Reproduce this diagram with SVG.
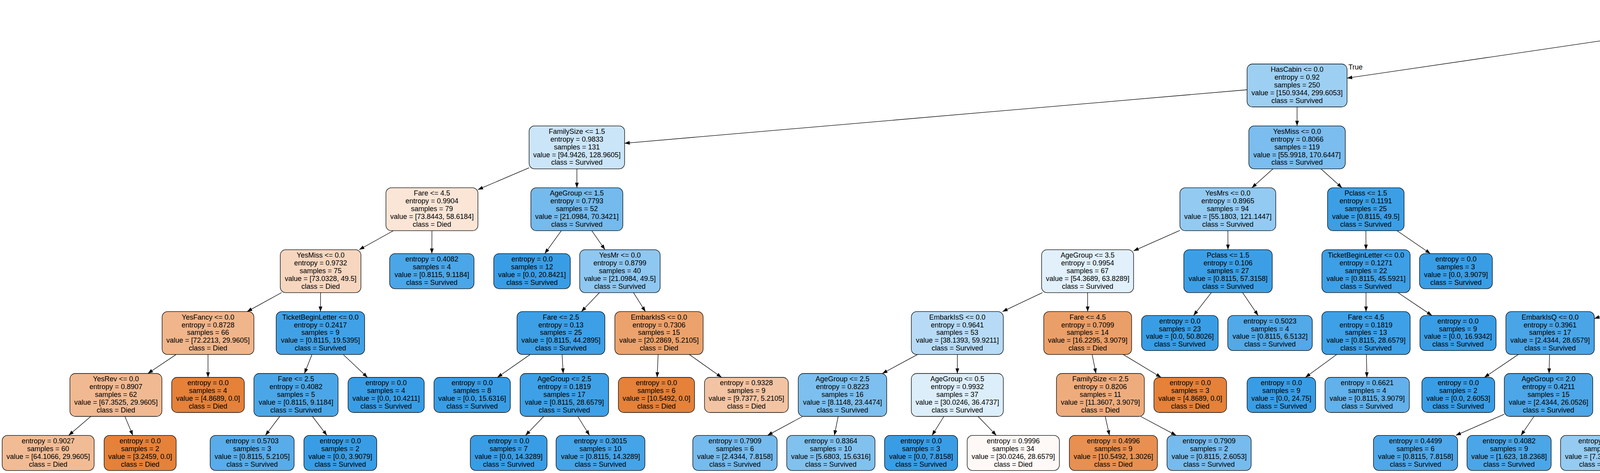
<svg xmlns="http://www.w3.org/2000/svg" width="7170" height="1212" viewBox="0 0 7170 1212">
<style>
.e path{fill:none;stroke:#000;stroke-width:1.3px;marker-end:url(#ah)}
.nd rect{stroke:#000;stroke-width:1.3px;rx:14px;ry:14px}
.d rect{fill:#e58139}
.s rect{fill:#399de5}
text{font-family:"Liberation Sans",Arial,Helvetica,sans-serif;font-size:18px;fill:#000}
.nd text{text-anchor:middle}
</style>
<defs>
<marker id="ah" markerUnits="userSpaceOnUse" markerWidth="16" markerHeight="12" refX="13" refY="5" orient="auto" overflow="visible"><path d="M0,0.3 L13,5 L0,9.7 Z" fill="#000"/></marker>
</defs>
<rect x="0" y="0" width="7170" height="1212" fill="#fff"/>
<g id="edges" class="e">
<path d="M4285.5,77.1 L3448.5,200.2"/>
<path d="M4512,75.1 L5497,202.5"/>
<path d="M3192.5,230 L1599,367.1"/>
<path d="M3320.5,274 L3320.5,322.6"/>
<path d="M1354.5,429.9 L1223.5,485.9"/>
<path d="M1476.8,432.6 L1476.8,481.2"/>
<path d="M1006.9,591.2 L919.6,639.8"/>
<path d="M1105.7,591.2 L1105.5,649.8"/>
<path d="M720.8,749.8 L632.5,798.4"/>
<path d="M820.6,749.8 L820.4,798.4"/>
<path d="M450.8,908.4 L378.5,957"/>
<path d="M532.5,908.4 L532.5,967"/>
<path d="M232.5,1067 L175.8,1115.6"/>
<path d="M319.7,1067 L340,1115.6"/>
<path d="M798.6,908.4 L779.4,957"/>
<path d="M878.6,908.4 L940.8,967"/>
<path d="M716.2,1067 L679.5,1115.6"/>
<path d="M799.8,1067 L836.9,1115.6"/>
<path d="M1437,591.2 L1394.6,649.8"/>
<path d="M1515,591.2 L1548.8,639.8"/>
<path d="M1534.6,749.8 L1488.4,798.4"/>
<path d="M1621.7,749.8 L1652.3,798.4"/>
<path d="M1357.2,908.4 L1273.2,967"/>
<path d="M1439,908.4 L1441.7,957"/>
<path d="M1392,1067 L1345.4,1115.6"/>
<path d="M1479,1067 L1509.2,1115.6"/>
<path d="M1684.8,908.4 L1682.3,967"/>
<path d="M1764.6,908.4 L1847.3,967"/>
<path d="M3259,432.6 L3204.7,481.2"/>
<path d="M3381.5,432.6 L3435.5,481.2"/>
<path d="M3020.5,590.4 L2902,642.8"/>
<path d="M3143.4,591.2 L3143.6,639.8"/>
<path d="M2668.6,749.8 L2566.4,798.4"/>
<path d="M2784.3,749.8 L2784.4,798.4"/>
<path d="M2348.8,908.4 L2258.7,957"/>
<path d="M2450.8,908.4 L2450.8,957"/>
<path d="M2054.9,1067 L1964.9,1115.6"/>
<path d="M2145.7,1067 L2136,1115.6"/>
<path d="M2416.4,1067 L2386.1,1115.6"/>
<path d="M2503.8,1067 L2550.6,1115.6"/>
<path d="M2795.8,908.4 L2805.7,957"/>
<path d="M2875.5,908.4 L2972.5,967"/>
<path d="M2829.3,1067 L2840.2,1115.6"/>
<path d="M2920,1067 L3011,1115.6"/>
<path d="M3101,749.8 L3055.5,808.4"/>
<path d="M3181,749.8 L3220.8,808.4"/>
<path d="M3496.6,591.2 L3496.9,639.8"/>
<path d="M3576.5,591.2 L3661.8,649.8"/>
<path d="M3497,749.8 L3497,798.4"/>
<path d="M3578.7,749.8 L3665.7,808.4"/>
<path d="M3421.8,908.4 L3341.8,967"/>
<path d="M3498,908.4 L3499.2,967"/>
<path d="M5624.5,274 L5624.5,322.6"/>
<path d="M5752,238.9 L6528.5,359.9"/>
<path d="M5543.5,432.6 L5472,481.2"/>
<path d="M5705.8,432.6 L5777.7,481.2"/>
<path d="M5273.5,556.1 L4550,678.3"/>
<path d="M5391,591.2 L5391,639.8"/>
<path d="M4354.5,726.8 L4081.5,816.3"/>
<path d="M4452.3,749.8 L4452.4,798.4"/>
<path d="M3886.8,908.4 L3799.9,967"/>
<path d="M3966.9,908.4 L3965.6,957"/>
<path d="M3851,1061.4 L3726.9,1115.6"/>
<path d="M3926.9,1067 L3893.8,1115.6"/>
<path d="M4409.8,908.4 L4372,957"/>
<path d="M4494.9,908.4 L4532.4,957"/>
<path d="M4247.5,1067 L4175.2,1115.6"/>
<path d="M4332.9,1067 L4336.1,1115.6"/>
<path d="M4570.9,1067 L4567.4,1115.6"/>
<path d="M4659.9,1067 L4735.1,1115.6"/>
<path d="M5347.4,749.8 L5308.9,798.4"/>
<path d="M5434.5,749.8 L5480.9,808.4"/>
<path d="M5263,908.4 L5261,957"/>
<path d="M5350,908.4 L5424.8,957"/>
<path d="M5179.4,1067 L5109.2,1115.6"/>
<path d="M5262.7,1067 L5266.2,1115.6"/>
<path d="M5506.1,1067 L5503.1,1115.6"/>
<path d="M5596.8,1067 L5673.9,1115.6"/>
<path d="M5859,591.2 L5859,639.8"/>
<path d="M5977,589.5 L6097,643.7"/>
<path d="M5825.8,749.8 L5790.4,808.4"/>
<path d="M5902.4,749.8 L5940.7,798.4"/>
<path d="M5986.4,908.4 L5988.6,957"/>
<path d="M6087,904.4 L6400,988"/>
<path d="M5991,1067 L5991,1115.6"/>
<path d="M6087.7,1067 L6173.1,1115.6"/>
<path d="M6513.8,1067 L6513.8,1115.6"/>
<path d="M6601.2,1067 L6678.5,1115.6"/>
<path d="M6210,749.8 L6210.2,808.4"/>
<path d="M6284.8,749.8 L6364.5,808.4"/>
<path d="M6641.8,432.6 L6641.8,481.2"/>
<path d="M6723.6,432.6 L6810.8,491.2"/>
<path d="M6641.8,591.2 L6641.8,639.8"/>
<path d="M6726.7,591.2 L6817.2,649.8"/>
<path d="M6641.8,749.8 L6641.8,808.4"/>
<path d="M6721.6,749.8 L6792.2,798.4"/>
<path d="M6852.7,908.4 L6832.1,967"/>
<path d="M6935.8,908.4 L7003.8,967"/>
<text x="3452" y="178">True</text>
<text x="5453" y="180">False</text>
</g>
<g id="n0" class="nd s"><rect x="4285.5" y="5.4" width="226.5" height="110" style="fill-opacity:.085"/><text x="4398.8" y="25.6"><tspan x="4398.8">Pclass &lt;= 2.5</tspan><tspan x="4398.8" dy="19.9">entropy = 0.9986</tspan><tspan x="4398.8" dy="19.9">samples = 557</tspan><tspan x="4398.8" dy="19.9">value = [430.082, 470.25]</tspan><tspan x="4398.8" dy="19.9">class = Survived</tspan></text></g>
<g id="n1" class="nd s"><rect x="3192.5" y="164" width="256" height="110" style="fill-opacity:.496"/><text x="3320.5" y="184.2"><tspan x="3320.5">HasCabin &lt;= 0.0</tspan><tspan x="3320.5" dy="19.9">entropy = 0.92</tspan><tspan x="3320.5" dy="19.9">samples = 250</tspan><tspan x="3320.5" dy="19.9">value = [150.9344, 299.6053]</tspan><tspan x="3320.5" dy="19.9">class = Survived</tspan></text></g>
<g id="n2" class="nd s"><rect x="1354.5" y="322.6" width="244.5" height="110" style="fill-opacity:.264"/><text x="1476.8" y="342.8"><tspan x="1476.8">FamilySize &lt;= 1.5</tspan><tspan x="1476.8" dy="19.9">entropy = 0.9833</tspan><tspan x="1476.8" dy="19.9">samples = 131</tspan><tspan x="1476.8" dy="19.9">value = [94.9426, 128.9605]</tspan><tspan x="1476.8" dy="19.9">class = Survived</tspan></text></g>
<g id="n3" class="nd d"><rect x="988" y="481.2" width="235.5" height="110" style="fill-opacity:.206"/><text x="1105.8" y="501.4"><tspan x="1105.8">Fare &lt;= 4.5</tspan><tspan x="1105.8" dy="19.9">entropy = 0.9904</tspan><tspan x="1105.8" dy="19.9">samples = 79</tspan><tspan x="1105.8" dy="19.9">value = [73.8443, 58.6184]</tspan><tspan x="1105.8" dy="19.9">class = Died</tspan></text></g>
<g id="n4" class="nd d"><rect x="717.5" y="639.8" width="206.5" height="110" style="fill-opacity:.322"/><text x="820.8" y="660"><tspan x="820.8">YesMiss &lt;= 0.0</tspan><tspan x="820.8" dy="19.9">entropy = 0.9732</tspan><tspan x="820.8" dy="19.9">samples = 75</tspan><tspan x="820.8" dy="19.9">value = [73.0328, 49.5]</tspan><tspan x="820.8" dy="19.9">class = Died</tspan></text></g>
<g id="n5" class="nd d"><rect x="415" y="798.4" width="235" height="110" style="fill-opacity:.585"/><text x="532.5" y="818.6"><tspan x="532.5">YesFancy &lt;= 0.0</tspan><tspan x="532.5" dy="19.9">entropy = 0.8728</tspan><tspan x="532.5" dy="19.9">samples = 66</tspan><tspan x="532.5" dy="19.9">value = [72.2213, 29.9605]</tspan><tspan x="532.5" dy="19.9">class = Died</tspan></text></g>
<g id="n6" class="nd d"><rect x="179" y="957" width="235.5" height="110" style="fill-opacity:.555"/><text x="296.8" y="977.2"><tspan x="296.8">YesRev &lt;= 0.0</tspan><tspan x="296.8" dy="19.9">entropy = 0.8907</tspan><tspan x="296.8" dy="19.9">samples = 62</tspan><tspan x="296.8" dy="19.9">value = [67.3525, 29.9605]</tspan><tspan x="296.8" dy="19.9">class = Died</tspan></text></g>
<g id="n7" class="nd d"><rect x="5.5" y="1115.6" width="235.5" height="90" style="fill-opacity:.533"/><text x="123.3" y="1135.8"><tspan x="123.3">entropy = 0.9027</tspan><tspan x="123.3" dy="19.9">samples = 60</tspan><tspan x="123.3" dy="19.9">value = [64.1066, 29.9605]</tspan><tspan x="123.3" dy="19.9">class = Died</tspan></text></g>
<g id="n8" class="nd d"><rect x="266.5" y="1115.6" width="184.5" height="90" style="fill-opacity:1"/><text x="358.8" y="1135.8"><tspan x="358.8">entropy = 0.0</tspan><tspan x="358.8" dy="19.9">samples = 2</tspan><tspan x="358.8" dy="19.9">value = [3.2459, 0.0]</tspan><tspan x="358.8" dy="19.9">class = Died</tspan></text></g>
<g id="n9" class="nd d"><rect x="439.5" y="967" width="186" height="90" style="fill-opacity:1"/><text x="532.5" y="987.2"><tspan x="532.5">entropy = 0.0</tspan><tspan x="532.5" dy="19.9">samples = 4</tspan><tspan x="532.5" dy="19.9">value = [4.8689, 0.0]</tspan><tspan x="532.5" dy="19.9">class = Died</tspan></text></g>
<g id="n10" class="nd s"><rect x="707" y="798.4" width="226.5" height="110" style="fill-opacity:.959"/><text x="820.3" y="818.6"><tspan x="820.3">TicketBeginLetter &lt;= 0.0</tspan><tspan x="820.3" dy="19.9">entropy = 0.2417</tspan><tspan x="820.3" dy="19.9">samples = 9</tspan><tspan x="820.3" dy="19.9">value = [0.8115, 19.5395]</tspan><tspan x="820.3" dy="19.9">class = Survived</tspan></text></g>
<g id="n11" class="nd s"><rect x="650" y="957" width="215.5" height="110" style="fill-opacity:.911"/><text x="757.8" y="977.2"><tspan x="757.8">Fare &lt;= 2.5</tspan><tspan x="757.8" dy="19.9">entropy = 0.4082</tspan><tspan x="757.8" dy="19.9">samples = 5</tspan><tspan x="757.8" dy="19.9">value = [0.8115, 9.1184]</tspan><tspan x="757.8" dy="19.9">class = Survived</tspan></text></g>
<g id="n12" class="nd s"><rect x="538" y="1115.6" width="215" height="90" style="fill-opacity:.844"/><text x="645.5" y="1135.8"><tspan x="645.5">entropy = 0.5703</tspan><tspan x="645.5" dy="19.9">samples = 3</tspan><tspan x="645.5" dy="19.9">value = [0.8115, 5.2105]</tspan><tspan x="645.5" dy="19.9">class = Survived</tspan></text></g>
<g id="n13" class="nd s"><rect x="778" y="1115.6" width="186.5" height="90" style="fill-opacity:1"/><text x="871.3" y="1135.8"><tspan x="871.3">entropy = 0.0</tspan><tspan x="871.3" dy="19.9">samples = 2</tspan><tspan x="871.3" dy="19.9">value = [0.0, 3.9079]</tspan><tspan x="871.3" dy="19.9">class = Survived</tspan></text></g>
<g id="n14" class="nd s"><rect x="891" y="967" width="195" height="90" style="fill-opacity:1"/><text x="988.5" y="987.2"><tspan x="988.5">entropy = 0.0</tspan><tspan x="988.5" dy="19.9">samples = 4</tspan><tspan x="988.5" dy="19.9">value = [0.0, 10.4211]</tspan><tspan x="988.5" dy="19.9">class = Survived</tspan></text></g>
<g id="n15" class="nd s"><rect x="997.5" y="649.8" width="216" height="90" style="fill-opacity:.911"/><text x="1105.5" y="670"><tspan x="1105.5">entropy = 0.4082</tspan><tspan x="1105.5" dy="19.9">samples = 4</tspan><tspan x="1105.5" dy="19.9">value = [0.8115, 9.1184]</tspan><tspan x="1105.5" dy="19.9">class = Survived</tspan></text></g>
<g id="n16" class="nd s"><rect x="1359" y="481.2" width="235.5" height="110" style="fill-opacity:.700"/><text x="1476.8" y="501.4"><tspan x="1476.8">AgeGroup &lt;= 1.5</tspan><tspan x="1476.8" dy="19.9">entropy = 0.7793</tspan><tspan x="1476.8" dy="19.9">samples = 52</tspan><tspan x="1476.8" dy="19.9">value = [21.0984, 70.3421]</tspan><tspan x="1476.8" dy="19.9">class = Survived</tspan></text></g>
<g id="n17" class="nd s"><rect x="1264" y="649.8" width="196" height="90" style="fill-opacity:1"/><text x="1362" y="670"><tspan x="1362">entropy = 0.0</tspan><tspan x="1362" dy="19.9">samples = 12</tspan><tspan x="1362" dy="19.9">value = [0.0, 20.8421]</tspan><tspan x="1362" dy="19.9">class = Survived</tspan></text></g>
<g id="n18" class="nd s"><rect x="1484" y="639.8" width="206" height="110" style="fill-opacity:.574"/><text x="1587" y="660"><tspan x="1587">YesMr &lt;= 0.0</tspan><tspan x="1587" dy="19.9">entropy = 0.8799</tspan><tspan x="1587" dy="19.9">samples = 40</tspan><tspan x="1587" dy="19.9">value = [21.0984, 49.5]</tspan><tspan x="1587" dy="19.9">class = Survived</tspan></text></g>
<g id="n19" class="nd s"><rect x="1323.5" y="798.4" width="225" height="110" style="fill-opacity:.982"/><text x="1436" y="818.6"><tspan x="1436">Fare &lt;= 2.5</tspan><tspan x="1436" dy="19.9">entropy = 0.13</tspan><tspan x="1436" dy="19.9">samples = 25</tspan><tspan x="1436" dy="19.9">value = [0.8115, 44.2895]</tspan><tspan x="1436" dy="19.9">class = Survived</tspan></text></g>
<g id="n20" class="nd s"><rect x="1111" y="967" width="195.5" height="90" style="fill-opacity:1"/><text x="1208.8" y="987.2"><tspan x="1208.8">entropy = 0.0</tspan><tspan x="1208.8" dy="19.9">samples = 8</tspan><tspan x="1208.8" dy="19.9">value = [0.0, 15.6316]</tspan><tspan x="1208.8" dy="19.9">class = Survived</tspan></text></g>
<g id="n21" class="nd s"><rect x="1331.5" y="957" width="226.5" height="110" style="fill-opacity:.972"/><text x="1444.8" y="977.2"><tspan x="1444.8">AgeGroup &lt;= 2.5</tspan><tspan x="1444.8" dy="19.9">entropy = 0.1819</tspan><tspan x="1444.8" dy="19.9">samples = 17</tspan><tspan x="1444.8" dy="19.9">value = [0.8115, 28.6579]</tspan><tspan x="1444.8" dy="19.9">class = Survived</tspan></text></g>
<g id="n22" class="nd s"><rect x="1204" y="1115.6" width="196.5" height="90" style="fill-opacity:1"/><text x="1302.3" y="1135.8"><tspan x="1302.3">entropy = 0.0</tspan><tspan x="1302.3" dy="19.9">samples = 7</tspan><tspan x="1302.3" dy="19.9">value = [0.0, 14.3289]</tspan><tspan x="1302.3" dy="19.9">class = Survived</tspan></text></g>
<g id="n23" class="nd s"><rect x="1423.5" y="1115.6" width="227.5" height="90" style="fill-opacity:.943"/><text x="1537.3" y="1135.8"><tspan x="1537.3">entropy = 0.3015</tspan><tspan x="1537.3" dy="19.9">samples = 10</tspan><tspan x="1537.3" dy="19.9">value = [0.8115, 14.3289]</tspan><tspan x="1537.3" dy="19.9">class = Survived</tspan></text></g>
<g id="n24" class="nd d"><rect x="1574" y="798.4" width="226" height="110" style="fill-opacity:.743"/><text x="1687" y="818.6"><tspan x="1687">EmbarkIsS &lt;= 0.0</tspan><tspan x="1687" dy="19.9">entropy = 0.7306</tspan><tspan x="1687" dy="19.9">samples = 15</tspan><tspan x="1687" dy="19.9">value = [20.2869, 5.2105]</tspan><tspan x="1687" dy="19.9">class = Died</tspan></text></g>
<g id="n25" class="nd d"><rect x="1583" y="967" width="195" height="90" style="fill-opacity:1"/><text x="1680.5" y="987.2"><tspan x="1680.5">entropy = 0.0</tspan><tspan x="1680.5" dy="19.9">samples = 6</tspan><tspan x="1680.5" dy="19.9">value = [10.5492, 0.0]</tspan><tspan x="1680.5" dy="19.9">class = Died</tspan></text></g>
<g id="n26" class="nd d"><rect x="1803.5" y="967" width="214.5" height="90" style="fill-opacity:.465"/><text x="1910.8" y="987.2"><tspan x="1910.8">entropy = 0.9328</tspan><tspan x="1910.8" dy="19.9">samples = 9</tspan><tspan x="1910.8" dy="19.9">value = [9.7377, 5.2105]</tspan><tspan x="1910.8" dy="19.9">class = Died</tspan></text></g>
<g id="n27" class="nd s"><rect x="3197" y="322.6" width="247" height="110" style="fill-opacity:.672"/><text x="3320.5" y="342.8"><tspan x="3320.5">YesMiss &lt;= 0.0</tspan><tspan x="3320.5" dy="19.9">entropy = 0.8066</tspan><tspan x="3320.5" dy="19.9">samples = 119</tspan><tspan x="3320.5" dy="19.9">value = [55.9918, 170.6447]</tspan><tspan x="3320.5" dy="19.9">class = Survived</tspan></text></g>
<g id="n28" class="nd s"><rect x="3020.5" y="481.2" width="245.5" height="110" style="fill-opacity:.545"/><text x="3143.3" y="501.4"><tspan x="3143.3">YesMrs &lt;= 0.0</tspan><tspan x="3143.3" dy="19.9">entropy = 0.8965</tspan><tspan x="3143.3" dy="19.9">samples = 94</tspan><tspan x="3143.3" dy="19.9">value = [55.1803, 121.1447]</tspan><tspan x="3143.3" dy="19.9">class = Survived</tspan></text></g>
<g id="n29" class="nd s"><rect x="2666.5" y="639.8" width="235.5" height="110" style="fill-opacity:.148"/><text x="2784.3" y="660"><tspan x="2784.3">AgeGroup &lt;= 3.5</tspan><tspan x="2784.3" dy="19.9">entropy = 0.9954</tspan><tspan x="2784.3" dy="19.9">samples = 67</tspan><tspan x="2784.3" dy="19.9">value = [54.3689, 63.8289]</tspan><tspan x="2784.3" dy="19.9">class = Survived</tspan></text></g>
<g id="n30" class="nd s"><rect x="2333" y="798.4" width="235.5" height="110" style="fill-opacity:.364"/><text x="2450.8" y="818.6"><tspan x="2450.8">EmbarkIsS &lt;= 0.0</tspan><tspan x="2450.8" dy="19.9">entropy = 0.9641</tspan><tspan x="2450.8" dy="19.9">samples = 53</tspan><tspan x="2450.8" dy="19.9">value = [38.1393, 59.9211]</tspan><tspan x="2450.8" dy="19.9">class = Survived</tspan></text></g>
<g id="n31" class="nd s"><rect x="2043.5" y="957" width="226.5" height="110" style="fill-opacity:.654"/><text x="2156.8" y="977.2"><tspan x="2156.8">AgeGroup &lt;= 2.5</tspan><tspan x="2156.8" dy="19.9">entropy = 0.8223</tspan><tspan x="2156.8" dy="19.9">samples = 16</tspan><tspan x="2156.8" dy="19.9">value = [8.1148, 23.4474]</tspan><tspan x="2156.8" dy="19.9">class = Survived</tspan></text></g>
<g id="n32" class="nd s"><rect x="1773.5" y="1115.6" width="216" height="90" style="fill-opacity:.689"/><text x="1881.5" y="1135.8"><tspan x="1881.5">entropy = 0.7909</tspan><tspan x="1881.5" dy="19.9">samples = 6</tspan><tspan x="1881.5" dy="19.9">value = [2.4344, 7.8158]</tspan><tspan x="1881.5" dy="19.9">class = Survived</tspan></text></g>
<g id="n33" class="nd s"><rect x="2014" y="1115.6" width="226" height="90" style="fill-opacity:.637"/><text x="2127" y="1135.8"><tspan x="2127">entropy = 0.8364</tspan><tspan x="2127" dy="19.9">samples = 10</tspan><tspan x="2127" dy="19.9">value = [5.6803, 15.6316]</tspan><tspan x="2127" dy="19.9">class = Survived</tspan></text></g>
<g id="n34" class="nd s"><rect x="2333" y="957" width="235.5" height="110" style="fill-opacity:.177"/><text x="2450.8" y="977.2"><tspan x="2450.8">AgeGroup &lt;= 0.5</tspan><tspan x="2450.8" dy="19.9">entropy = 0.9932</tspan><tspan x="2450.8" dy="19.9">samples = 37</tspan><tspan x="2450.8" dy="19.9">value = [30.0246, 36.4737]</tspan><tspan x="2450.8" dy="19.9">class = Survived</tspan></text></g>
<g id="n35" class="nd s"><rect x="2264.5" y="1115.6" width="187" height="90" style="fill-opacity:1"/><text x="2358" y="1135.8"><tspan x="2358">entropy = 0.0</tspan><tspan x="2358" dy="19.9">samples = 3</tspan><tspan x="2358" dy="19.9">value = [0.0, 7.8158]</tspan><tspan x="2358" dy="19.9">class = Survived</tspan></text></g>
<g id="n36" class="nd d"><rect x="2476" y="1115.6" width="236" height="90" style="fill-opacity:.046"/><text x="2594" y="1135.8"><tspan x="2594">entropy = 0.9996</tspan><tspan x="2594" dy="19.9">samples = 34</tspan><tspan x="2594" dy="19.9">value = [30.0246, 28.6579]</tspan><tspan x="2594" dy="19.9">class = Died</tspan></text></g>
<g id="n37" class="nd d"><rect x="2672" y="798.4" width="225" height="110" style="fill-opacity:.759"/><text x="2784.5" y="818.6"><tspan x="2784.5">Fare &lt;= 4.5</tspan><tspan x="2784.5" dy="19.9">entropy = 0.7099</tspan><tspan x="2784.5" dy="19.9">samples = 14</tspan><tspan x="2784.5" dy="19.9">value = [16.2295, 3.9079]</tspan><tspan x="2784.5" dy="19.9">class = Died</tspan></text></g>
<g id="n38" class="nd d"><rect x="2704.5" y="957" width="225" height="110" style="fill-opacity:.656"/><text x="2817" y="977.2"><tspan x="2817">FamilySize &lt;= 2.5</tspan><tspan x="2817" dy="19.9">entropy = 0.8206</tspan><tspan x="2817" dy="19.9">samples = 11</tspan><tspan x="2817" dy="19.9">value = [11.3607, 3.9079]</tspan><tspan x="2817" dy="19.9">class = Died</tspan></text></g>
<g id="n39" class="nd d"><rect x="2737.5" y="1115.6" width="225.5" height="90" style="fill-opacity:.877"/><text x="2850.3" y="1135.8"><tspan x="2850.3">entropy = 0.4996</tspan><tspan x="2850.3" dy="19.9">samples = 9</tspan><tspan x="2850.3" dy="19.9">value = [10.5492, 1.3026]</tspan><tspan x="2850.3" dy="19.9">class = Died</tspan></text></g>
<g id="n40" class="nd s"><rect x="2987.5" y="1115.6" width="215.5" height="90" style="fill-opacity:.689"/><text x="3095.3" y="1135.8"><tspan x="3095.3">entropy = 0.7909</tspan><tspan x="3095.3" dy="19.9">samples = 2</tspan><tspan x="3095.3" dy="19.9">value = [0.8115, 2.6053]</tspan><tspan x="3095.3" dy="19.9">class = Survived</tspan></text></g>
<g id="n41" class="nd d"><rect x="2954" y="967" width="186" height="90" style="fill-opacity:1"/><text x="3047" y="987.2"><tspan x="3047">entropy = 0.0</tspan><tspan x="3047" dy="19.9">samples = 3</tspan><tspan x="3047" dy="19.9">value = [4.8689, 0.0]</tspan><tspan x="3047" dy="19.9">class = Died</tspan></text></g>
<g id="n42" class="nd s"><rect x="3030.5" y="639.8" width="226.5" height="110" style="fill-opacity:.986"/><text x="3143.8" y="660"><tspan x="3143.8">Pclass &lt;= 1.5</tspan><tspan x="3143.8" dy="19.9">entropy = 0.106</tspan><tspan x="3143.8" dy="19.9">samples = 27</tspan><tspan x="3143.8" dy="19.9">value = [0.8115, 57.3158]</tspan><tspan x="3143.8" dy="19.9">class = Survived</tspan></text></g>
<g id="n43" class="nd s"><rect x="2922.5" y="808.4" width="196" height="90" style="fill-opacity:1"/><text x="3020.5" y="828.6"><tspan x="3020.5">entropy = 0.0</tspan><tspan x="3020.5" dy="19.9">samples = 23</tspan><tspan x="3020.5" dy="19.9">value = [0.0, 50.8026]</tspan><tspan x="3020.5" dy="19.9">class = Survived</tspan></text></g>
<g id="n44" class="nd s"><rect x="3143" y="808.4" width="216.5" height="90" style="fill-opacity:.875"/><text x="3251.3" y="828.6"><tspan x="3251.3">entropy = 0.5023</tspan><tspan x="3251.3" dy="19.9">samples = 4</tspan><tspan x="3251.3" dy="19.9">value = [0.8115, 6.5132]</tspan><tspan x="3251.3" dy="19.9">class = Survived</tspan></text></g>
<g id="n45" class="nd s"><rect x="3398.5" y="481.2" width="196" height="110" style="fill-opacity:.984"/><text x="3496.5" y="501.4"><tspan x="3496.5">Pclass &lt;= 1.5</tspan><tspan x="3496.5" dy="19.9">entropy = 0.1191</tspan><tspan x="3496.5" dy="19.9">samples = 25</tspan><tspan x="3496.5" dy="19.9">value = [0.8115, 49.5]</tspan><tspan x="3496.5" dy="19.9">class = Survived</tspan></text></g>
<g id="n46" class="nd s"><rect x="3384" y="639.8" width="226" height="110" style="fill-opacity:.982"/><text x="3497" y="660"><tspan x="3497">TicketBeginLetter &lt;= 0.0</tspan><tspan x="3497" dy="19.9">entropy = 0.1271</tspan><tspan x="3497" dy="19.9">samples = 22</tspan><tspan x="3497" dy="19.9">value = [0.8115, 45.5921]</tspan><tspan x="3497" dy="19.9">class = Survived</tspan></text></g>
<g id="n47" class="nd s"><rect x="3384" y="798.4" width="226" height="110" style="fill-opacity:.972"/><text x="3497" y="818.6"><tspan x="3497">Fare &lt;= 4.5</tspan><tspan x="3497" dy="19.9">entropy = 0.1819</tspan><tspan x="3497" dy="19.9">samples = 13</tspan><tspan x="3497" dy="19.9">value = [0.8115, 28.6579]</tspan><tspan x="3497" dy="19.9">class = Survived</tspan></text></g>
<g id="n48" class="nd s"><rect x="3192.5" y="967" width="175.5" height="90" style="fill-opacity:1"/><text x="3280.3" y="987.2"><tspan x="3280.3">entropy = 0.0</tspan><tspan x="3280.3" dy="19.9">samples = 9</tspan><tspan x="3280.3" dy="19.9">value = [0.0, 24.75]</tspan><tspan x="3280.3" dy="19.9">class = Survived</tspan></text></g>
<g id="n49" class="nd s"><rect x="3392" y="967" width="216" height="90" style="fill-opacity:.792"/><text x="3500" y="987.2"><tspan x="3500">entropy = 0.6621</tspan><tspan x="3500" dy="19.9">samples = 4</tspan><tspan x="3500" dy="19.9">value = [0.8115, 3.9079]</tspan><tspan x="3500" dy="19.9">class = Survived</tspan></text></g>
<g id="n50" class="nd s"><rect x="3635" y="808.4" width="195" height="90" style="fill-opacity:1"/><text x="3732.5" y="828.6"><tspan x="3732.5">entropy = 0.0</tspan><tspan x="3732.5" dy="19.9">samples = 9</tspan><tspan x="3732.5" dy="19.9">value = [0.0, 16.9342]</tspan><tspan x="3732.5" dy="19.9">class = Survived</tspan></text></g>
<g id="n51" class="nd s"><rect x="3634" y="649.8" width="186.5" height="90" style="fill-opacity:1"/><text x="3727.3" y="670"><tspan x="3727.3">entropy = 0.0</tspan><tspan x="3727.3" dy="19.9">samples = 3</tspan><tspan x="3727.3" dy="19.9">value = [0.0, 3.9079]</tspan><tspan x="3727.3" dy="19.9">class = Survived</tspan></text></g>
<g id="n52" class="nd d"><rect x="5497" y="164" width="255" height="110" style="fill-opacity:.389"/><text x="5624.5" y="184.2"><tspan x="5624.5">FamilySize &lt;= 4.5</tspan><tspan x="5624.5" dy="19.9">entropy = 0.9576</tspan><tspan x="5624.5" dy="19.9">samples = 307</tspan><tspan x="5624.5" dy="19.9">value = [279.1475, 170.6447]</tspan><tspan x="5624.5" dy="19.9">class = Died</tspan></text></g>
<g id="n53" class="nd d"><rect x="5497" y="322.6" width="255" height="110" style="fill-opacity:.308"/><text x="5624.5" y="342.8"><tspan x="5624.5">Gender &lt;= 0.0</tspan><tspan x="5624.5" dy="19.9">entropy = 0.9759</tspan><tspan x="5624.5" dy="19.9">samples = 269</tspan><tspan x="5624.5" dy="19.9">value = [235.3279, 162.8289]</tspan><tspan x="5624.5" dy="19.9">class = Died</tspan></text></g>
<g id="n54" class="nd s"><rect x="5273.5" y="481.2" width="235" height="110" style="fill-opacity:.601"/><text x="5391" y="501.4"><tspan x="5391">Fare &lt;= 1.5</tspan><tspan x="5391" dy="19.9">entropy = 0.8622</tspan><tspan x="5391" dy="19.9">samples = 80</tspan><tspan x="5391" dy="19.9">value = [38.9508, 97.6974]</tspan><tspan x="5391" dy="19.9">class = Survived</tspan></text></g>
<g id="n55" class="nd s"><rect x="4354.5" y="639.8" width="195.5" height="110" style="fill-opacity:.656"/><text x="4452.3" y="660"><tspan x="4452.3">EmbarkIsS &lt;= 0.0</tspan><tspan x="4452.3" dy="19.9">entropy = 0.8208</tspan><tspan x="4452.3" dy="19.9">samples = 41</tspan><tspan x="4452.3" dy="19.9">value = [17.041, 49.5]</tspan><tspan x="4452.3" dy="19.9">class = Survived</tspan></text></g>
<g id="n56" class="nd s"><rect x="3855" y="798.4" width="226.5" height="110" style="fill-opacity:.915"/><text x="3968.3" y="818.6"><tspan x="3968.3">EmbarkIsQ &lt;= 0.0</tspan><tspan x="3968.3" dy="19.9">entropy = 0.3961</tspan><tspan x="3968.3" dy="19.9">samples = 17</tspan><tspan x="3968.3" dy="19.9">value = [2.4344, 28.6579]</tspan><tspan x="3968.3" dy="19.9">class = Survived</tspan></text></g>
<g id="n57" class="nd s"><rect x="3640" y="967" width="186.5" height="90" style="fill-opacity:1"/><text x="3733.3" y="987.2"><tspan x="3733.3">entropy = 0.0</tspan><tspan x="3733.3" dy="19.9">samples = 2</tspan><tspan x="3733.3" dy="19.9">value = [0.0, 2.6053]</tspan><tspan x="3733.3" dy="19.9">class = Survived</tspan></text></g>
<g id="n58" class="nd s"><rect x="3851" y="957" width="226.5" height="110" style="fill-opacity:.907"/><text x="3964.3" y="977.2"><tspan x="3964.3">AgeGroup &lt;= 2.0</tspan><tspan x="3964.3" dy="19.9">entropy = 0.4211</tspan><tspan x="3964.3" dy="19.9">samples = 15</tspan><tspan x="3964.3" dy="19.9">value = [2.4344, 26.0526]</tspan><tspan x="3964.3" dy="19.9">class = Survived</tspan></text></g>
<g id="n59" class="nd s"><rect x="3516" y="1115.6" width="215.5" height="90" style="fill-opacity:.896"/><text x="3623.8" y="1135.8"><tspan x="3623.8">entropy = 0.4499</tspan><tspan x="3623.8" dy="19.9">samples = 6</tspan><tspan x="3623.8" dy="19.9">value = [0.8115, 7.8158]</tspan><tspan x="3623.8" dy="19.9">class = Survived</tspan></text></g>
<g id="n60" class="nd s"><rect x="3755.5" y="1115.6" width="215.5" height="90" style="fill-opacity:.911"/><text x="3863.3" y="1135.8"><tspan x="3863.3">entropy = 0.4082</tspan><tspan x="3863.3" dy="19.9">samples = 9</tspan><tspan x="3863.3" dy="19.9">value = [1.623, 18.2368]</tspan><tspan x="3863.3" dy="19.9">class = Survived</tspan></text></g>
<g id="n61" class="nd s"><rect x="4335" y="798.4" width="235" height="110" style="fill-opacity:.299"/><text x="4452.5" y="818.6"><tspan x="4452.5">YesMrs &lt;= 0.0</tspan><tspan x="4452.5" dy="19.9">entropy = 0.9776</tspan><tspan x="4452.5" dy="19.9">samples = 24</tspan><tspan x="4452.5" dy="19.9">value = [14.6066, 20.8421]</tspan><tspan x="4452.5" dy="19.9">class = Survived</tspan></text></g>
<g id="n62" class="nd s"><rect x="4211.5" y="957" width="235.5" height="110" style="fill-opacity:.169"/><text x="4329.3" y="977.2"><tspan x="4329.3">AgeGroup &lt;= 2.5</tspan><tspan x="4329.3" dy="19.9">entropy = 0.9938</tspan><tspan x="4329.3" dy="19.9">samples = 19</tspan><tspan x="4329.3" dy="19.9">value = [12.9836, 15.6316]</tspan><tspan x="4329.3" dy="19.9">class = Survived</tspan></text></g>
<g id="n63" class="nd s"><rect x="3995" y="1115.6" width="226.5" height="90" style="fill-opacity:.533"/><text x="4108.3" y="1135.8"><tspan x="4108.3">entropy = 0.9027</tspan><tspan x="4108.3" dy="19.9">samples = 14</tspan><tspan x="4108.3" dy="19.9">value = [7.3033, 15.6316]</tspan><tspan x="4108.3" dy="19.9">class = Survived</tspan></text></g>
<g id="n64" class="nd d"><rect x="4245.5" y="1115.6" width="187" height="90" style="fill-opacity:1"/><text x="4339" y="1135.8"><tspan x="4339">entropy = 0.0</tspan><tspan x="4339" dy="19.9">samples = 5</tspan><tspan x="4339" dy="19.9">value = [5.6803, 0.0]</tspan><tspan x="4339" dy="19.9">class = Died</tspan></text></g>
<g id="n65" class="nd s"><rect x="4472" y="957" width="205.5" height="110" style="fill-opacity:.689"/><text x="4574.8" y="977.2"><tspan x="4574.8">AgeGroup &lt;= 2.0</tspan><tspan x="4574.8" dy="19.9">entropy = 0.7909</tspan><tspan x="4574.8" dy="19.9">samples = 5</tspan><tspan x="4574.8" dy="19.9">value = [1.623, 5.2105]</tspan><tspan x="4574.8" dy="19.9">class = Survived</tspan></text></g>
<g id="n66" class="nd s"><rect x="4456.5" y="1115.6" width="215.5" height="90" style="fill-opacity:.377"/><text x="4564.3" y="1135.8"><tspan x="4564.3">entropy = 0.9607</tspan><tspan x="4564.3" dy="19.9">samples = 2</tspan><tspan x="4564.3" dy="19.9">value = [0.8115, 1.3026]</tspan><tspan x="4564.3" dy="19.9">class = Survived</tspan></text></g>
<g id="n67" class="nd s"><rect x="4697" y="1115.6" width="215.5" height="90" style="fill-opacity:.792"/><text x="4804.8" y="1135.8"><tspan x="4804.8">entropy = 0.6621</tspan><tspan x="4804.8" dy="19.9">samples = 3</tspan><tspan x="4804.8" dy="19.9">value = [0.8115, 3.9079]</tspan><tspan x="4804.8" dy="19.9">class = Survived</tspan></text></g>
<g id="n68" class="nd s"><rect x="5273.5" y="639.8" width="235" height="110" style="fill-opacity:.545"/><text x="5391" y="660"><tspan x="5391">TicketBeginLetter &lt;= 0.0</tspan><tspan x="5391" dy="19.9">entropy = 0.8961</tspan><tspan x="5391" dy="19.9">samples = 39</tspan><tspan x="5391" dy="19.9">value = [21.9098, 48.1974]</tspan><tspan x="5391" dy="19.9">class = Survived</tspan></text></g>
<g id="n69" class="nd s"><rect x="5147.5" y="798.4" width="235.5" height="110" style="fill-opacity:.591"/><text x="5265.3" y="818.6"><tspan x="5265.3">AgeGroup &lt;= 0.5</tspan><tspan x="5265.3" dy="19.9">entropy = 0.8693</tspan><tspan x="5265.3" dy="19.9">samples = 35</tspan><tspan x="5265.3" dy="19.9">value = [18.6639, 45.5921]</tspan><tspan x="5265.3" dy="19.9">class = Survived</tspan></text></g>
<g id="n70" class="nd s"><rect x="5151.5" y="957" width="214.5" height="110" style="fill-opacity:.911"/><text x="5258.8" y="977.2"><tspan x="5258.8">EmbarkIsC &lt;= 0.0</tspan><tspan x="5258.8" dy="19.9">entropy = 0.4082</tspan><tspan x="5258.8" dy="19.9">samples = 7</tspan><tspan x="5258.8" dy="19.9">value = [0.8115, 9.1184]</tspan><tspan x="5258.8" dy="19.9">class = Survived</tspan></text></g>
<g id="n71" class="nd s"><rect x="4936.5" y="1115.6" width="215.5" height="90" style="fill-opacity:.792"/><text x="5044.3" y="1135.8"><tspan x="5044.3">entropy = 0.6621</tspan><tspan x="5044.3" dy="19.9">samples = 4</tspan><tspan x="5044.3" dy="19.9">value = [0.8115, 3.9079]</tspan><tspan x="5044.3" dy="19.9">class = Survived</tspan></text></g>
<g id="n72" class="nd s"><rect x="5176" y="1115.6" width="187" height="90" style="fill-opacity:1"/><text x="5269.5" y="1135.8"><tspan x="5269.5">entropy = 0.0</tspan><tspan x="5269.5" dy="19.9">samples = 3</tspan><tspan x="5269.5" dy="19.9">value = [0.0, 5.2105]</tspan><tspan x="5269.5" dy="19.9">class = Survived</tspan></text></g>
<g id="n73" class="nd s"><rect x="5391.5" y="957" width="236" height="110" style="fill-opacity:.511"/><text x="5509.5" y="977.2"><tspan x="5509.5">EmbarkIsC &lt;= 0.0</tspan><tspan x="5509.5" dy="19.9">entropy = 0.9135</tspan><tspan x="5509.5" dy="19.9">samples = 28</tspan><tspan x="5509.5" dy="19.9">value = [17.8525, 36.4737]</tspan><tspan x="5509.5" dy="19.9">class = Survived</tspan></text></g>
<g id="n74" class="nd s"><rect x="5387" y="1115.6" width="226.5" height="90" style="fill-opacity:.660"/><text x="5500.3" y="1135.8"><tspan x="5500.3">entropy = 0.817</tspan><tspan x="5500.3" dy="19.9">samples = 20</tspan><tspan x="5500.3" dy="19.9">value = [9.7377, 28.6579]</tspan><tspan x="5500.3" dy="19.9">class = Survived</tspan></text></g>
<g id="n75" class="nd d"><rect x="5637.5" y="1115.6" width="215.5" height="90" style="fill-opacity:.037"/><text x="5745.3" y="1135.8"><tspan x="5745.3">entropy = 0.9997</tspan><tspan x="5745.3" dy="19.9">samples = 8</tspan><tspan x="5745.3" dy="19.9">value = [8.1148, 7.8158]</tspan><tspan x="5745.3" dy="19.9">class = Died</tspan></text></g>
<g id="n76" class="nd d"><rect x="5408.5" y="808.4" width="216" height="90" style="fill-opacity:.197"/><text x="5516.5" y="828.6"><tspan x="5516.5">entropy = 0.9913</tspan><tspan x="5516.5" dy="19.9">samples = 4</tspan><tspan x="5516.5" dy="19.9">value = [3.2459, 2.6053]</tspan><tspan x="5516.5" dy="19.9">class = Died</tspan></text></g>
<g id="n77" class="nd d"><rect x="5741" y="481.2" width="236" height="110" style="fill-opacity:.668"/><text x="5859" y="501.4"><tspan x="5859">FamilySize &lt;= 2.5</tspan><tspan x="5859" dy="19.9">entropy = 0.8098</tspan><tspan x="5859" dy="19.9">samples = 189</tspan><tspan x="5859" dy="19.9">value = [196.377, 65.1316]</tspan><tspan x="5859" dy="19.9">class = Died</tspan></text></g>
<g id="n78" class="nd d"><rect x="5741" y="639.8" width="236" height="110" style="fill-opacity:.712"/><text x="5859" y="660"><tspan x="5859">YesMr &lt;= 0.0</tspan><tspan x="5859" dy="19.9">entropy = 0.7666</tspan><tspan x="5859" dy="19.9">samples = 173</tspan><tspan x="5859" dy="19.9">value = [180.959, 52.1053]</tspan><tspan x="5859" dy="19.9">class = Died</tspan></text></g>
<g id="n79" class="nd s"><rect x="5670" y="808.4" width="186.5" height="90" style="fill-opacity:1"/><text x="5763.3" y="828.6"><tspan x="5763.3">entropy = 0.0</tspan><tspan x="5763.3" dy="19.9">samples = 2</tspan><tspan x="5763.3" dy="19.9">value = [0.0, 2.6053]</tspan><tspan x="5763.3" dy="19.9">class = Survived</tspan></text></g>
<g id="n80" class="nd d"><rect x="5881" y="798.4" width="206" height="110" style="fill-opacity:.727"/><text x="5984" y="818.6"><tspan x="5984">EmbarkIsQ &lt;= 0.0</tspan><tspan x="5984" dy="19.9">entropy = 0.7505</tspan><tspan x="5984" dy="19.9">samples = 171</tspan><tspan x="5984" dy="19.9">value = [180.959, 49.5]</tspan><tspan x="5984" dy="19.9">class = Died</tspan></text></g>
<g id="n81" class="nd d"><rect x="5868" y="957" width="246" height="110" style="fill-opacity:.681"/><text x="5991" y="977.2"><tspan x="5991">EmbarkIsS &lt;= 0.0</tspan><tspan x="5991" dy="19.9">entropy = 0.7984</tspan><tspan x="5991" dy="19.9">samples = 149</tspan><tspan x="5991" dy="19.9">value = [150.9344, 48.1974]</tspan><tspan x="5991" dy="19.9">class = Died</tspan></text></g>
<g id="n82" class="nd d"><rect x="5878" y="1115.6" width="226" height="90" style="fill-opacity:.679"/><text x="5991" y="1135.8"><tspan x="5991">entropy = 0.8</tspan><tspan x="5991" dy="19.9">samples = 23</tspan><tspan x="5991" dy="19.9">value = [20.2869, 6.5132]</tspan><tspan x="5991" dy="19.9">class = Died</tspan></text></g>
<g id="n83" class="nd d"><rect x="6129" y="1115.6" width="246.5" height="90" style="fill-opacity:.681"/><text x="6252.3" y="1135.8"><tspan x="6252.3">entropy = 0.7982</tspan><tspan x="6252.3" dy="19.9">samples = 126</tspan><tspan x="6252.3" dy="19.9">value = [130.6475, 41.6842]</tspan><tspan x="6252.3" dy="19.9">class = Died</tspan></text></g>
<g id="n84" class="nd d"><rect x="6400" y="957" width="227.5" height="110" style="fill-opacity:.957"/><text x="6513.8" y="977.2"><tspan x="6513.8">AgeGroup &lt;= 2.5</tspan><tspan x="6513.8" dy="19.9">entropy = 0.2495</tspan><tspan x="6513.8" dy="19.9">samples = 22</tspan><tspan x="6513.8" dy="19.9">value = [30.0246, 1.3026]</tspan><tspan x="6513.8" dy="19.9">class = Died</tspan></text></g>
<g id="n85" class="nd d"><rect x="6400" y="1115.6" width="227.5" height="90" style="fill-opacity:.893"/><text x="6513.8" y="1135.8"><tspan x="6513.8">entropy = 0.4584</tspan><tspan x="6513.8" dy="19.9">samples = 11</tspan><tspan x="6513.8" dy="19.9">value = [12.1721, 1.3026]</tspan><tspan x="6513.8" dy="19.9">class = Died</tspan></text></g>
<g id="n86" class="nd d"><rect x="6652" y="1115.6" width="196" height="90" style="fill-opacity:1"/><text x="6750" y="1135.8"><tspan x="6750">entropy = 0.0</tspan><tspan x="6750" dy="19.9">samples = 11</tspan><tspan x="6750" dy="19.9">value = [17.8525, 0.0]</tspan><tspan x="6750" dy="19.9">class = Died</tspan></text></g>
<g id="n87" class="nd d"><rect x="6097" y="639.8" width="226" height="110" style="fill-opacity:.155"/><text x="6210" y="660"><tspan x="6210">YesMr &lt;= 0.0</tspan><tspan x="6210" dy="19.9">entropy = 0.9949</tspan><tspan x="6210" dy="19.9">samples = 16</tspan><tspan x="6210" dy="19.9">value = [15.418, 13.0263]</tspan><tspan x="6210" dy="19.9">class = Died</tspan></text></g>
<g id="n88" class="nd s"><rect x="6112.5" y="808.4" width="195.5" height="90" style="fill-opacity:1"/><text x="6210.3" y="828.6"><tspan x="6210.3">entropy = 0.0</tspan><tspan x="6210.3" dy="19.9">samples = 5</tspan><tspan x="6210.3" dy="19.9">value = [0.0, 13.0263]</tspan><tspan x="6210.3" dy="19.9">class = Survived</tspan></text></g>
<g id="n89" class="nd d"><rect x="6333" y="808.4" width="185.5" height="90" style="fill-opacity:1"/><text x="6425.8" y="828.6"><tspan x="6425.8">entropy = 0.0</tspan><tspan x="6425.8" dy="19.9">samples = 11</tspan><tspan x="6425.8" dy="19.9">value = [15.418, 0.0]</tspan><tspan x="6425.8" dy="19.9">class = Died</tspan></text></g>
<g id="n90" class="nd d"><rect x="6528.5" y="322.6" width="226.5" height="110" style="fill-opacity:.822"/><text x="6641.8" y="342.8"><tspan x="6641.8">TicketBeginLetter &lt;= 0.0</tspan><tspan x="6641.8" dy="19.9">entropy = 0.6132</tspan><tspan x="6641.8" dy="19.9">samples = 38</tspan><tspan x="6641.8" dy="19.9">value = [43.8197, 7.8158]</tspan><tspan x="6641.8" dy="19.9">class = Died</tspan></text></g>
<g id="n91" class="nd d"><rect x="6528.5" y="481.2" width="226.5" height="110" style="fill-opacity:.733"/><text x="6641.8" y="501.4"><tspan x="6641.8">YesMaster &lt;= 0.0</tspan><tspan x="6641.8" dy="19.9">entropy = 0.7435</tspan><tspan x="6641.8" dy="19.9">samples = 27</tspan><tspan x="6641.8" dy="19.9">value = [29.2131, 7.8158]</tspan><tspan x="6641.8" dy="19.9">class = Died</tspan></text></g>
<g id="n92" class="nd d"><rect x="6534" y="639.8" width="215.5" height="110" style="fill-opacity:.618"/><text x="6641.8" y="660"><tspan x="6641.8">FamilySize &lt;= 6.5</tspan><tspan x="6641.8" dy="19.9">entropy = 0.8507</tspan><tspan x="6641.8" dy="19.9">samples = 15</tspan><tspan x="6641.8" dy="19.9">value = [17.041, 6.5132]</tspan><tspan x="6641.8" dy="19.9">class = Died</tspan></text></g>
<g id="n93" class="nd d"><rect x="6544" y="808.4" width="195.5" height="90" style="fill-opacity:1"/><text x="6641.8" y="828.6"><tspan x="6641.8">entropy = 0.0</tspan><tspan x="6641.8" dy="19.9">samples = 9</tspan><tspan x="6641.8" dy="19.9">value = [12.9836, 0.0]</tspan><tspan x="6641.8" dy="19.9">class = Died</tspan></text></g>
<g id="n94" class="nd s"><rect x="6764" y="798.4" width="216" height="110" style="fill-opacity:.377"/><text x="6872" y="818.6"><tspan x="6872">AgeGroup &lt;= 0.5</tspan><tspan x="6872" dy="19.9">entropy = 0.9607</tspan><tspan x="6872" dy="19.9">samples = 6</tspan><tspan x="6872" dy="19.9">value = [4.0574, 6.5132]</tspan><tspan x="6872" dy="19.9">class = Survived</tspan></text></g>
<g id="n95" class="nd d"><rect x="6708.5" y="967" width="215.5" height="90" style="fill-opacity:.197"/><text x="6816.3" y="987.2"><tspan x="6816.3">entropy = 0.9913</tspan><tspan x="6816.3" dy="19.9">samples = 3</tspan><tspan x="6816.3" dy="19.9">value = [3.2459, 2.6053]</tspan><tspan x="6816.3" dy="19.9">class = Died</tspan></text></g>
<g id="n96" class="nd s"><rect x="6948" y="967" width="216" height="90" style="fill-opacity:.792"/><text x="7056" y="987.2"><tspan x="7056">entropy = 0.6621</tspan><tspan x="7056" dy="19.9">samples = 3</tspan><tspan x="7056" dy="19.9">value = [0.8115, 3.9079]</tspan><tspan x="7056" dy="19.9">class = Survived</tspan></text></g>
<g id="n97" class="nd d"><rect x="6773.5" y="649.8" width="226.5" height="90" style="fill-opacity:.893"/><text x="6886.8" y="670"><tspan x="6886.8">entropy = 0.4584</tspan><tspan x="6886.8" dy="19.9">samples = 12</tspan><tspan x="6886.8" dy="19.9">value = [12.1721, 1.3026]</tspan><tspan x="6886.8" dy="19.9">class = Died</tspan></text></g>
<g id="n98" class="nd d"><rect x="6780" y="491.2" width="195.5" height="90" style="fill-opacity:1"/><text x="6877.8" y="511.4"><tspan x="6877.8">entropy = -0.0</tspan><tspan x="6877.8" dy="19.9">samples = 11</tspan><tspan x="6877.8" dy="19.9">value = [14.6066, 0.0]</tspan><tspan x="6877.8" dy="19.9">class = Died</tspan></text></g>
</svg>
